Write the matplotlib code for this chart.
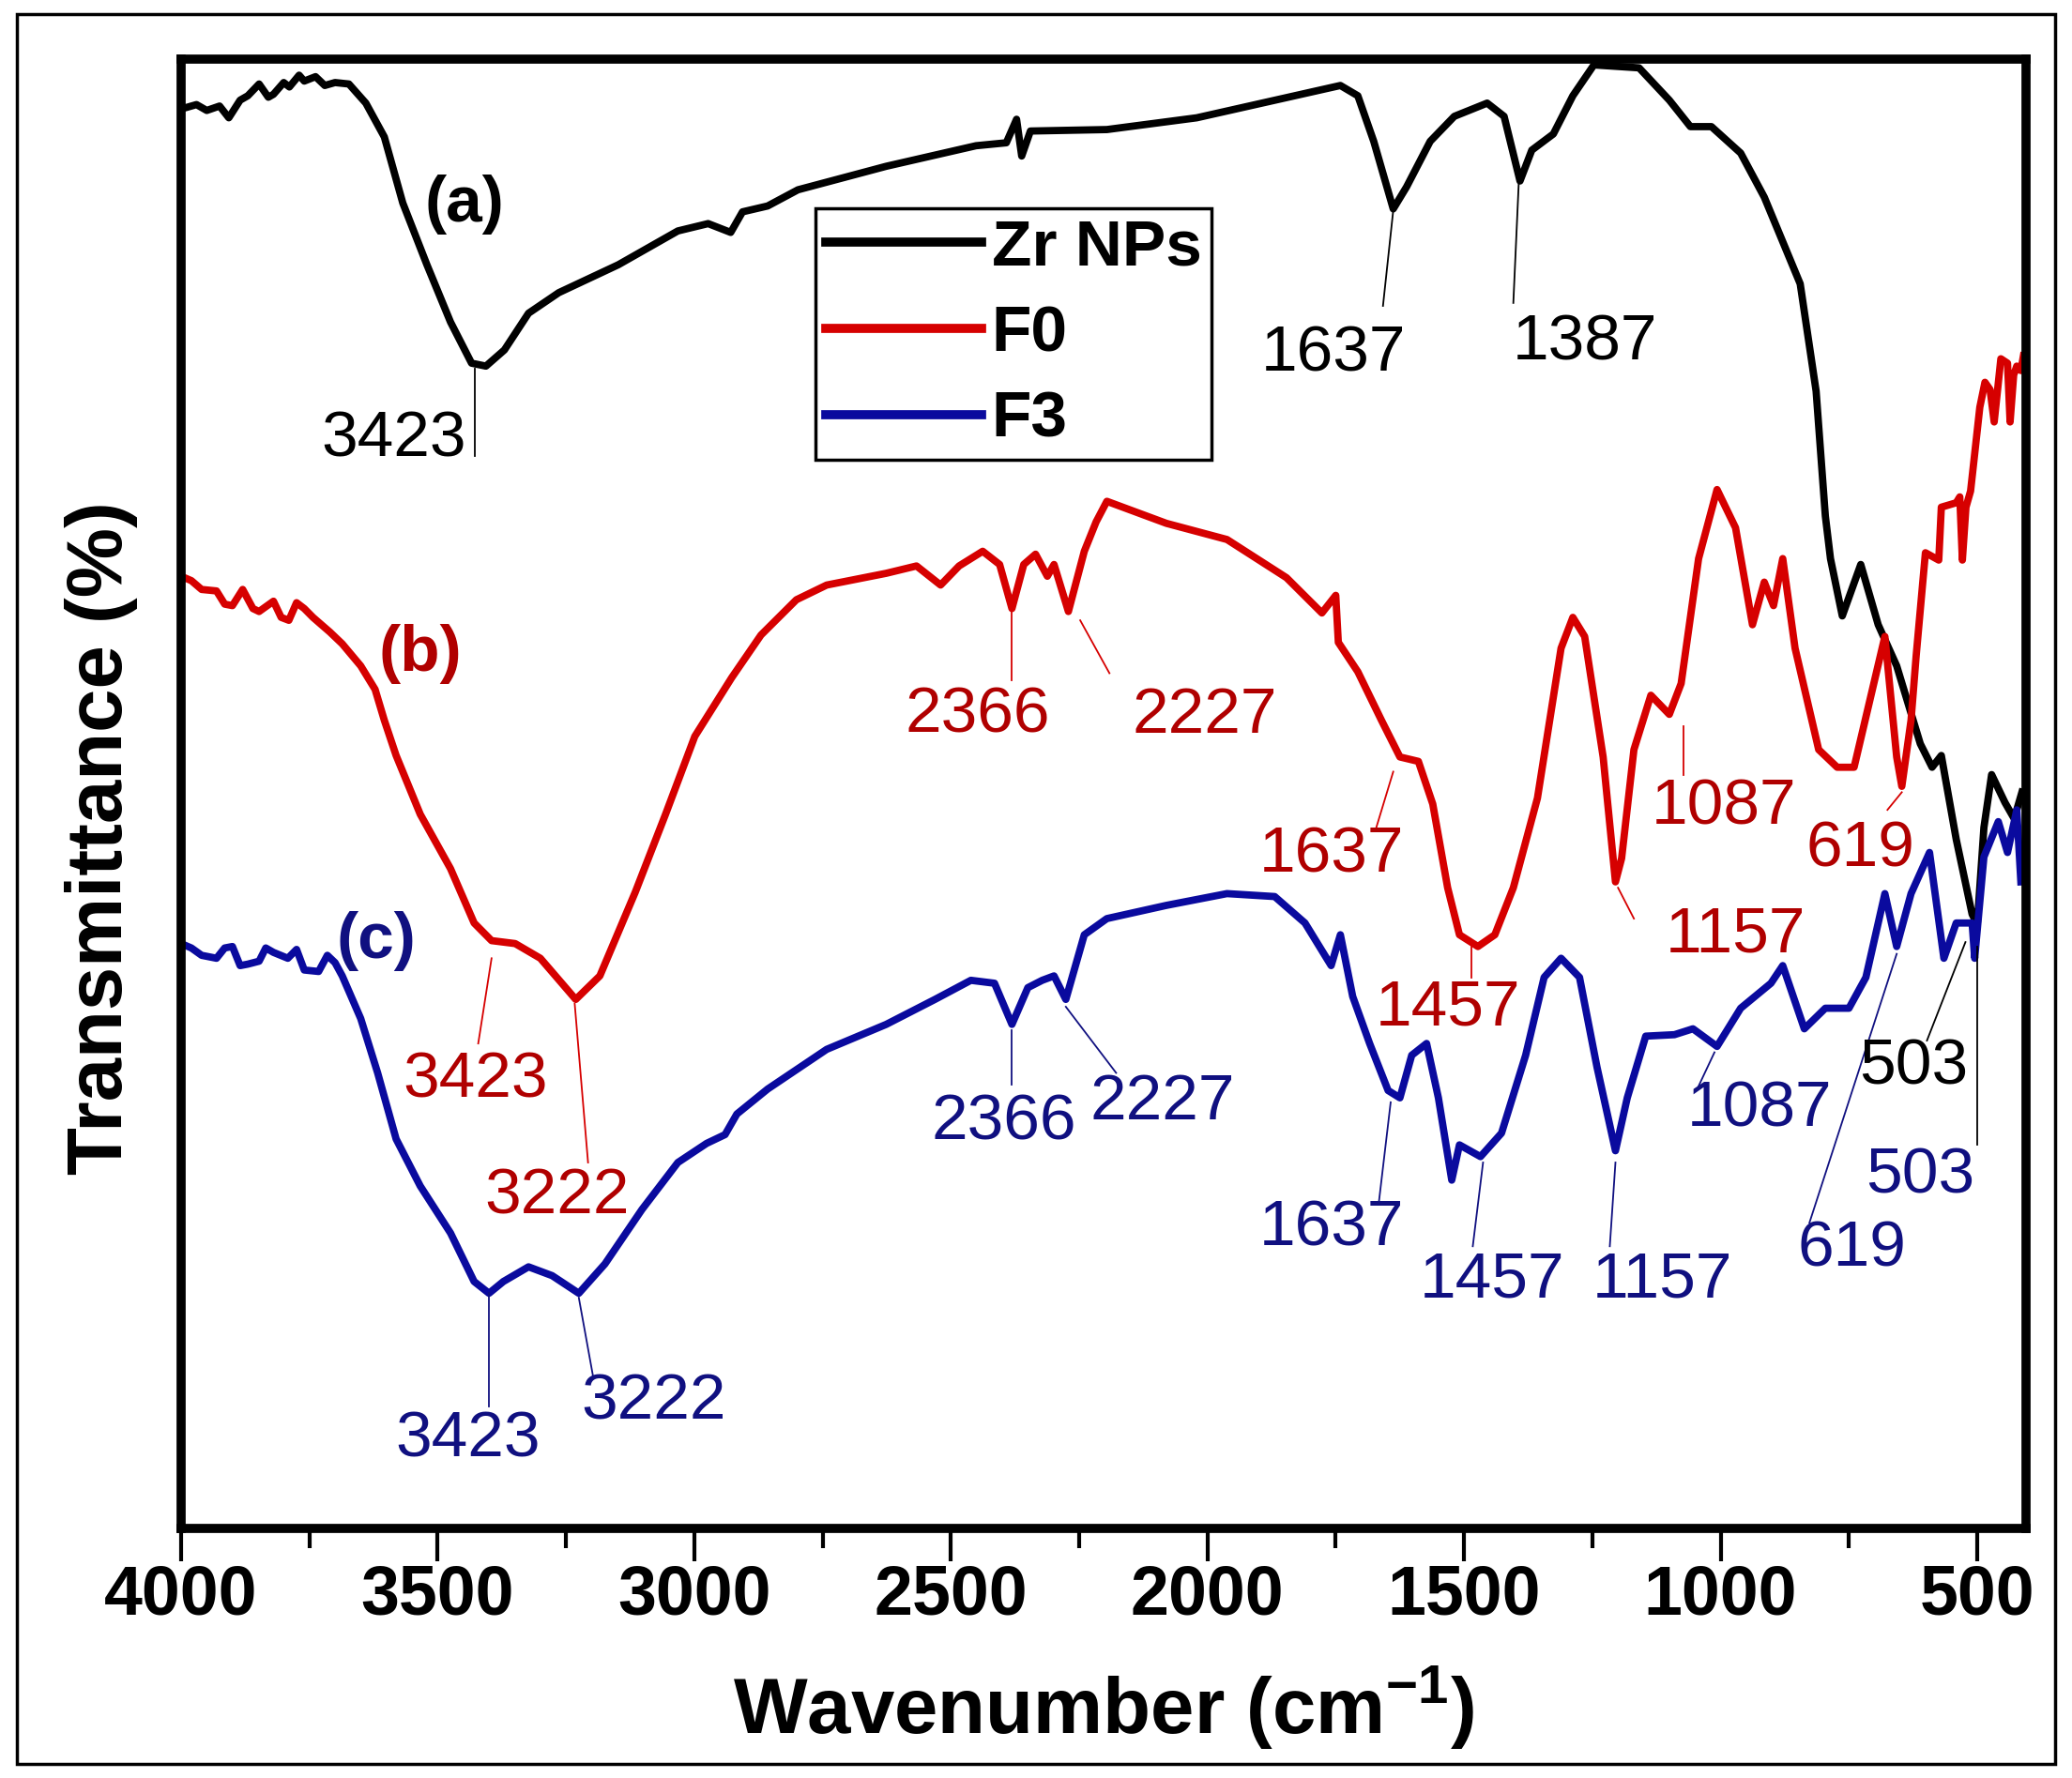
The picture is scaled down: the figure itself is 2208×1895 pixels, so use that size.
import matplotlib
matplotlib.use('Agg')
import matplotlib.pyplot as plt
from matplotlib import font_manager
from matplotlib.patches import Rectangle
from matplotlib.ticker import MultipleLocator

# FTIR spectra, wavenumber (cm-1) vs transmittance (offset, arbitrary units)
zr_wn = [3990, 3970, 3950, 3925, 3907, 3885, 3870, 3848, 3830, 3820, 3800, 3789, 3770, 3760,
         3738, 3720, 3700, 3673, 3640, 3604, 3568, 3521, 3475, 3434, 3406, 3370, 3323, 3264,
         3148, 3032, 2973, 2929, 2906, 2857, 2798, 2626, 2451, 2392, 2372, 2362, 2345, 2196,
         2021, 1741, 1707, 1676, 1638, 1612, 1566, 1519, 1455, 1422, 1391, 1368, 1326, 1288,
         1247, 1159, 1100, 1059, 1018, 961, 915, 845, 814, 796, 786, 763, 727, 693, 657, 611,
         588, 570, 541, 510, 500, 487, 472, 446, 428, 413]
zr_t = [96.7, 96.9, 96.5, 96.8, 96.0, 97.2, 97.5, 98.3, 97.4, 97.6, 98.4, 98.1, 98.9, 98.5,
        98.8, 98.2, 98.4, 98.3, 97.0, 94.7, 90.2, 86.0, 82.1, 79.3, 79.1, 80.2, 82.7, 84.1,
        86.0, 88.3, 88.8, 88.2, 89.6, 90.0, 91.1, 92.7, 94.1, 94.3, 95.9, 93.4, 95.1, 95.2,
        96.0, 98.2, 97.5, 94.4, 89.8, 91.3, 94.4, 96.1, 97.0, 96.1, 91.7, 93.8, 94.9, 97.5,
        99.6, 99.4, 97.2, 95.4, 95.4, 93.6, 90.6, 84.7, 77.4, 68.9, 66.0, 62.1, 65.6, 61.5,
        58.7, 53.4, 51.8, 52.6, 46.9, 41.8, 41.1, 47.7, 51.3, 49.4, 48.3, 50.1]

f0_wn = [4000, 3980, 3960, 3931, 3915, 3900, 3880, 3860, 3848, 3820, 3805, 3790, 3775, 3760,
         3743, 3710, 3686, 3650, 3622, 3604, 3581, 3534, 3475, 3429, 3395, 3349, 3300, 3231,
         3184, 3115, 3056, 2999, 2927, 2870, 2801, 2742, 2626, 2567, 2520, 2484, 2438, 2405,
         2381, 2358, 2335, 2312, 2299, 2271, 2240, 2217, 2196, 2080, 1962, 1846, 1777, 1750,
         1745, 1707, 1661, 1625, 1589, 1561, 1532, 1509, 1473, 1440, 1404, 1357, 1311, 1288,
         1265, 1229, 1205, 1193, 1169, 1136, 1100, 1077, 1043, 1007, 971, 938, 915, 897, 879,
         855, 809, 773, 740, 680, 657, 647, 629, 619, 601, 575, 570, 541, 534, 529, 522, 513,
         495, 485, 475, 467, 454, 441, 436, 429, 423, 415, 410]
f0_t = [64.8, 64.5, 63.9, 63.8, 62.9, 62.8, 63.9, 62.6, 62.4, 63.1, 62.0, 61.8, 63.0, 62.6,
        62.0, 61.0, 60.2, 58.7, 57.1, 55.0, 52.6, 48.6, 44.9, 41.2, 40.0, 39.8, 38.8, 36.0,
        37.6, 43.3, 48.6, 53.9, 57.9, 60.8, 63.2, 64.2, 65.0, 65.5, 64.2, 65.5, 66.5, 65.6,
        62.6, 65.6, 66.3, 64.8, 65.6, 62.4, 66.5, 68.5, 69.9, 68.4, 67.3, 64.7, 62.3, 63.5,
        60.3, 58.3, 55.0, 52.5, 52.2, 49.3, 43.6, 40.4, 39.6, 40.4, 43.6, 49.7, 59.9, 62.0,
        60.7, 52.5, 44.0, 45.6, 53.0, 56.7, 55.4, 57.5, 66.0, 70.7, 68.1, 61.5, 64.4, 62.8,
        66.0, 59.9, 53.0, 51.8, 51.8, 60.7, 52.5, 50.5, 55.0, 59.4, 66.4, 65.9, 69.5, 69.8,
        70.2, 65.9, 69.5, 70.6, 76.3, 78.0, 77.5, 75.3, 79.6, 79.3, 75.3, 78.5, 79.1, 78.8,
        79.8]

f3_wn = [4000, 3980, 3960, 3931, 3915, 3900, 3885, 3870, 3848, 3835, 3820, 3792, 3775, 3760,
         3732, 3715, 3700, 3686, 3650, 3617, 3581, 3534, 3475, 3429, 3400, 3372, 3323, 3277,
         3225, 3174, 3102, 3032, 2976, 2940, 2917, 2857, 2742, 2626, 2531, 2461, 2415, 2381,
         2350, 2322, 2299, 2276, 2240, 2196, 2080, 1962, 1869, 1810, 1759, 1741, 1717, 1684,
         1648, 1625, 1602, 1573, 1550, 1524, 1509, 1468, 1427, 1380, 1344, 1311, 1275, 1241,
         1205, 1182, 1146, 1090, 1054, 1007, 961, 902, 879, 837, 796, 750, 717, 680, 657, 629,
         593, 565, 541, 510, 505, 487, 459, 441, 423, 415]
f3_t = [39.8, 39.5, 39.0, 38.8, 39.5, 39.6, 38.3, 38.4, 38.6, 39.5, 39.2, 38.8, 39.4, 38.0,
        37.9, 39.0, 38.5, 37.6, 34.7, 31.0, 26.5, 23.3, 20.1, 16.8, 16.0, 16.8, 17.8, 17.2,
        16.0, 18.0, 21.7, 24.9, 26.2, 26.8, 28.2, 29.9, 32.6, 34.3, 36.0, 37.3, 37.1, 34.3,
        36.8, 37.3, 37.6, 36.0, 40.4, 41.5, 42.4, 43.2, 43.0, 41.2, 38.3, 40.4, 36.2, 33.0,
        29.8, 29.3, 32.2, 33.0, 29.3, 23.7, 26.1, 25.3, 26.9, 32.2, 37.5, 38.8, 37.5, 31.4,
        25.7, 29.3, 33.5, 33.6, 34.0, 32.8, 35.4, 37.1, 38.3, 34.0, 35.4, 35.4, 37.5, 43.2,
        39.6, 43.2, 46.0, 38.8, 41.2, 41.2, 38.8, 45.7, 48.1, 46.0, 48.9, 44.0]

BLACK = '#000000'
RED = '#d60000'
BLUE = '#0a0a9e'
RED_TXT = '#b00000'
BLUE_TXT = '#101080'

names = {f.name for f in font_manager.fontManager.ttflist}
narrow = 'Liberation Sans Narrow' if 'Liberation Sans Narrow' in names else 'Liberation Sans'

plt.rcParams['font.family'] = ['Liberation Sans', 'DejaVu Sans']
plt.rcParams['mathtext.fontset'] = 'custom'
plt.rcParams['mathtext.rm'] = 'Liberation Sans'
plt.rcParams['mathtext.bf'] = 'Liberation Sans:bold'

fig = plt.figure(figsize=(22.08, 18.95), dpi=100)
ax = fig.add_axes([0.0874, 0.1404, 0.8904, 0.8264])

ax.plot(zr_wn, zr_t, color=BLACK, lw=5.6, label='Zr NPs', solid_joinstyle='round')
ax.plot(f0_wn, f0_t, color=RED, lw=5.6, label='F0', solid_joinstyle='round')
ax.plot(f3_wn, f3_t, color=BLUE, lw=5.6, label='F3', solid_joinstyle='round')

ax.set_xlim(4000, 405)
ax.set_ylim(0, 100)
ax.set_yticks([])
ax.xaxis.set_major_locator(MultipleLocator(500))
ax.xaxis.set_minor_locator(MultipleLocator(250))
ax.tick_params(axis='x', which='major', direction='out', length=25, width=3, pad=2)
ax.tick_params(axis='x', which='minor', direction='out', length=15, width=3)
for lab in ax.get_xticklabels():
    lab.set_fontfamily(narrow)
    lab.set_fontsize(60 if narrow != 'Liberation Sans' else 53)
    lab.set_fontweight('bold')
for s in ax.spines.values():
    s.set_linewidth(7)

ax.set_xlabel(r'Wavenumber (cm$^{\mathbf{-1}}$)', fontsize=60, fontweight='bold')
ax.xaxis.set_label_coords(0.5, -0.122)
ax.xaxis.label.set_va('center')
ax.set_ylabel('Transmittance (%)', fontsize=60, fontweight='bold')
ax.yaxis.set_label_coords(-0.043, 0.47)
ax.yaxis.label.set_va('center')

# curve names
ax.text(3447, 90.1, '(a)', color=BLACK, fontsize=50, fontweight='bold', ha='center', va='center')
ax.text(3534, 59.5, '(b)', color=RED_TXT, fontsize=50, fontweight='bold', ha='center', va='center')
ax.text(3619, 40.0, '(c)', color=BLUE_TXT, fontsize=50, fontweight='bold', ha='center', va='center')

# peak labels: text, text pos, leader line (x0, y0, x1, y1), colours
peaks = [
    ('3423', 3586, 74.1, (3428, 78.9, 3428, 73.0), BLACK, BLACK),
    ('1637', 1754, 79.9, (1638, 89.7, 1658, 83.2), BLACK, BLACK),
    ('1387', 1265, 80.7, (1393, 91.9, 1404, 83.4), BLACK, BLACK),
    ('2366', 2448, 55.3, (2381, 62.4, 2381, 57.7), RED_TXT, RED),
    ('2227', 2006, 55.3, (2248, 61.8, 2191, 58.2), RED_TXT, RED),
    ('3423', 3426, 30.5, (3395, 38.8, 3421, 33.0), RED_TXT, RED),
    ('3222', 3267, 22.6, (3233, 35.7, 3207, 24.9), RED_TXT, RED),
    ('1637', 1759, 45.8, (1638, 51.5, 1671, 47.7), RED_TXT, RED),
    ('1457', 1532, 35.4, (1486, 39.6, 1486, 37.5), RED_TXT, RED),
    ('1157', 971, 40.4, (1200, 43.6, 1169, 41.5), RED_TXT, RED),
    ('1087', 994, 49.1, (1072, 54.6, 1072, 51.3), RED_TXT, RED),
    ('619', 727, 46.2, (647, 50.1, 675, 48.9), RED_TXT, RED),
    ('3423', 3442, 6.0, (3400, 16.0, 3400, 8.3), BLUE_TXT, BLUE_TXT),
    ('3222', 3079, 8.6, (3225, 15.7, 3197, 10.3), BLUE_TXT, BLUE_TXT),
    ('2366', 2397, 27.6, (2381, 33.9, 2381, 30.2), BLUE_TXT, BLUE_TXT),
    ('2227', 2088, 29.0, (2276, 35.5, 2178, 31.0), BLUE_TXT, BLUE_TXT),
    ('1637', 1759, 20.4, (1643, 29.0, 1666, 22.2), BLUE_TXT, BLUE_TXT),
    ('1457', 1445, 16.9, (1463, 24.9, 1483, 19.2), BLUE_TXT, BLUE_TXT),
    ('1157', 1113, 16.9, (1205, 24.9, 1216, 19.2), BLUE_TXT, BLUE_TXT),
    ('1087', 925, 28.5, (1012, 32.4, 1043, 30.1), BLUE_TXT, BLUE_TXT),
    ('619', 745, 19.0, (657, 39.1, 827, 20.8), BLUE_TXT, BLUE_TXT),
    ('503', 611, 24.0, (500, 39.6, 500, 26.1), BLUE_TXT, BLACK),
    ('503', 624, 31.4, (523, 39.9, 598, 33.2), BLACK, BLACK),
]
for txt, tx, ty, (x0, y0, x1, y1), tc, lc in peaks:
    ax.plot([x0, x1], [y0, y1], color=lc, lw=1.3)
    ax.text(tx, ty, txt, color=tc, fontsize=50, ha='center', va='center')

leg = ax.legend(loc='upper left', bbox_to_anchor=(0.344, 0.8985), borderaxespad=0,
                fancybox=False, framealpha=1, edgecolor='black',
                prop={'weight': 'bold', 'size': 50}, handlelength=2.4,
                handletextpad=0.15, labelspacing=0.4, borderpad=0.15)
leg.get_frame().set_linewidth(2.5)
for h in leg.get_lines():
    h.set_linewidth(7)

fig.patches.append(Rectangle((0.008, 0.008), 0.984, 0.984, transform=fig.transFigure,
                             fill=False, edgecolor='black', lw=2.5))

fig.savefig('out.png', dpi=100)
